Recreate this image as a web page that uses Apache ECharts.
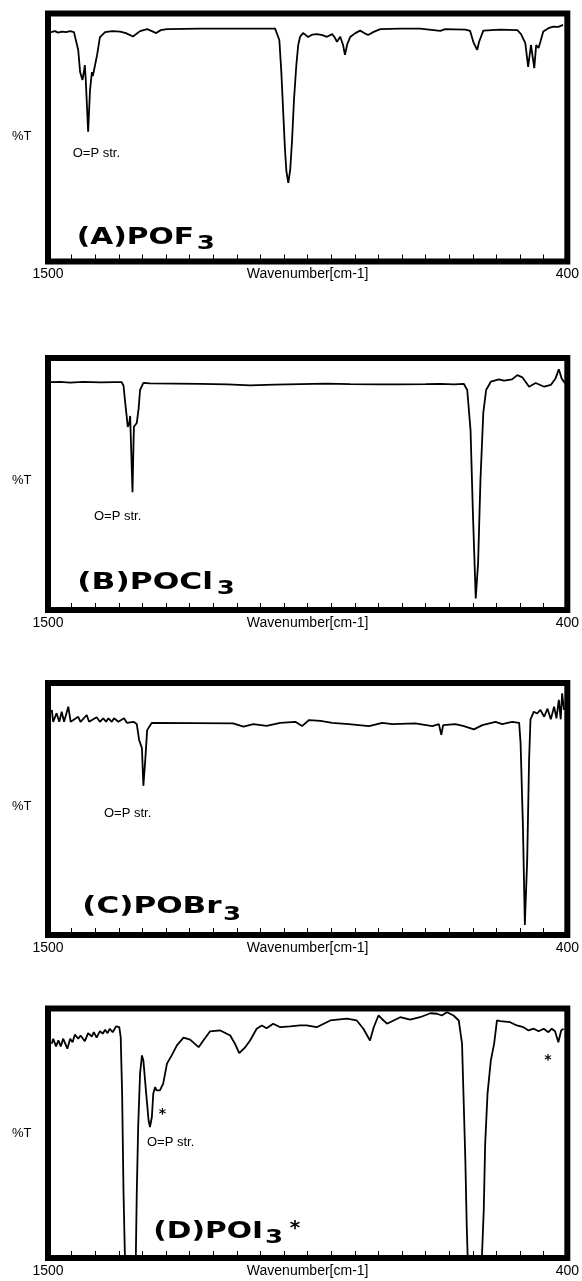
<!DOCTYPE html>
<html>
<head>
<meta charset="utf-8">
<title>IR spectra POX3</title>
<script src="https://cdn.jsdelivr.net/npm/echarts@6/dist/echarts.min.js"></script>
<style>
  html, body { margin: 0; padding: 0; background: #fff; }
  #main { width: 582px; height: 1281px; }
</style>
</head>
<body>
<div id="main"></div>
<script>
// wavenumber [cm-1] and %T
const wnA = [1494, 1485, 1479, 1470, 1462, 1453, 1445, 1441, 1436, 1432, 1427, 1424, 1422, 1420, 1415, 1411, 1407, 1405, 1401, 1396,
  1390, 1379, 1364, 1347, 1335, 1320, 1305, 1290, 1280, 1271, 1261, 1248, 1178, 1093, 1019, 1015, 1010, 1006, 1002, 998,
  995, 991, 987, 983, 979, 974, 970, 966, 960, 954, 949, 940, 930, 919, 909, 898, 892, 888, 881, 875,
  871, 866, 860, 849, 839, 830, 822, 809, 796, 754, 712, 669, 659, 616, 606, 599, 591, 587, 578, 542,
  506, 498, 489, 483, 477, 470, 466, 461, 457, 451, 440, 430, 419, 409];
const tA = [92.5, 92.9, 92.3, 92.7, 92.5, 92.9, 92.5, 91.7, 85.3, 76.4, 73.2, 76.4, 79.2, 73.2, 52.3, 69.1, 76.4, 74.8, 75.6, 83.3,
  90.5, 92.5, 92.9, 92.7, 92.1, 90.7, 92.9, 93.7, 92.9, 92.1, 93.3, 93.7, 93.9, 93.9, 93.9, 93.3, 89.3, 77.2, 61.1, 45.0,
  36.3, 31.7, 36.9, 49.0, 65.1, 79.2, 87.3, 90.6, 92.1, 91.3, 90.5, 91.5, 91.7, 91.3, 90.6, 91.7, 90.1, 88.6, 90.6, 87.3,
  83.3, 87.7, 90.5, 92.1, 93.1, 92.1, 91.3, 92.7, 93.7, 93.9, 93.9, 93.0, 93.7, 93.5, 93.0, 88.5, 85.3, 88.5, 93.1, 93.5,
  93.3, 91.7, 88.1, 78.5, 87.3, 78.0, 87.3, 86.1, 88.6, 92.7, 94.1, 94.7, 94.6, 95.4];

const wnB = [1494, 1475, 1453, 1426, 1390, 1358, 1344, 1340, 1337, 1331, 1328, 1326, 1324, 1321, 1319, 1318, 1312, 1308, 1305, 1298,
  1284, 1230, 1178, 1120, 1072, 1020, 966, 910, 860, 800, 754, 700, 669, 640, 619, 612, 605, 600, 594, 589,
  584, 578, 572, 562, 545, 534, 517, 506, 495, 481, 467, 449, 435, 425, 418, 412, 405];
const tB = [90.4, 90.5, 90.2, 90.5, 90.3, 90.4, 90.4, 89.0, 83.3, 72.7, 74.0, 77.0, 65.0, 46.7, 65.0, 72.7, 74.2, 80.0, 87.3, 90.1,
  89.9, 89.8, 89.7, 89.5, 89.1, 89.4, 89.6, 89.8, 89.6, 89.5, 89.5, 89.6, 89.7, 89.5, 89.7, 87.3, 71.4, 38.5, 4.6, 18.7,
  51.6, 78.2, 87.3, 90.6, 91.5, 91.0, 91.5, 93.2, 92.3, 88.6, 90.1, 88.6, 89.3, 91.9, 95.5, 91.9, 90.0];

const wnC = [1492, 1489, 1482, 1476, 1471, 1466, 1457, 1452, 1436, 1431, 1418, 1413, 1397, 1390, 1383, 1377, 1372, 1365, 1360, 1351,
  1339, 1333, 1319, 1312, 1307, 1301, 1298, 1294, 1290, 1280, 1108, 1086, 1065, 1037, 1008, 976, 962, 947, 923, 898,
  863, 820, 792, 771, 722, 686, 672, 667, 663, 637, 619, 598, 580, 552, 538, 517, 502, 499, 494, 490,
  485, 481, 478, 471, 464, 457, 449, 442, 435, 428, 423, 418, 414, 411, 407];
const tC = [89.3, 84.6, 88.0, 84.6, 88.6, 84.6, 90.6, 84.6, 86.6, 84.6, 87.3, 84.6, 86.4, 84.6, 86.0, 84.6, 86.0, 84.6, 86.0, 84.6,
  86.0, 84.2, 84.6, 83.7, 77.4, 74.1, 59.2, 69.4, 81.3, 84.2, 84.0, 82.7, 83.7, 83.0, 84.2, 84.6, 82.9, 85.3, 85.0, 84.2,
  83.7, 82.9, 84.2, 83.7, 84.0, 82.9, 83.7, 79.4, 83.3, 83.7, 82.9, 81.6, 83.3, 84.6, 83.7, 84.6, 84.2, 76.1, 43.0, 4.0,
  29.8, 69.4, 85.6, 88.6, 87.9, 89.3, 86.6, 89.8, 85.6, 90.6, 86.0, 93.3, 85.6, 95.9, 89.3];

const wnD = [1492, 1489, 1483, 1478, 1473, 1468, 1459, 1453, 1448, 1443, 1436, 1431, 1422, 1415, 1407, 1403, 1397, 1390, 1384, 1379,
  1374, 1369, 1363, 1356, 1349, 1346, 1343, 1340, 1337, 1333, 1326, 1319, 1314, 1312, 1309, 1305, 1301, 1298, 1292, 1287,
  1284, 1280, 1277, 1273, 1270, 1263, 1256, 1248, 1238, 1227, 1213, 1199, 1181, 1171, 1157, 1135, 1114, 1104, 1095, 1083,
  1072, 1058, 1047, 1037, 1023, 1008, 987, 966, 952, 931, 902, 867, 846, 832, 818, 810, 800, 793, 782, 768,
  754, 733, 712, 690, 676, 666, 655, 641, 630, 623, 620, 616, 613, 611, 606, 595, 584, 581, 577, 574,
  569, 562, 555, 549, 542, 521, 507, 493, 482, 471, 461, 450, 440, 433, 426, 419, 413, 408];
const tD = [85.9, 87.9, 84.8, 87.2, 84.8, 87.9, 83.9, 87.9, 86.5, 89.6, 87.9, 89.2, 86.9, 90.1, 88.8, 90.5, 88.3, 90.9, 89.9, 91.5,
  90.1, 91.9, 90.5, 92.8, 92.5, 88.5, 65.9, 25.9, 0, -20, -25, -20, 0, 25.9, 52.5, 73.9, 81.2, 79.2, 65.9, 55.2,
  52.5, 56.5, 65.9, 68.5, 67.2, 67.2, 69.9, 77.9, 81.2, 85.2, 88.3, 87.5, 84.5, 87.2, 90.8, 91.2, 89.2, 85.9, 82.1, 84.3,
  87.2, 91.9, 93.2, 92.1, 93.9, 92.5, 92.8, 93.2, 93.2, 92.5, 95.2, 95.9, 95.2, 91.9, 87.2, 92.5, 97.2, 95.9, 93.9, 95.2,
  96.5, 95.5, 96.5, 98.1, 97.9, 97.2, 98.5, 97.2, 95.2, 85.9, 65.9, 39.2, 12.5, 0, -20, -25, -20, 0, 19.2, 45.9,
  65.9, 79.2, 85.9, 95.2, 94.9, 94.5, 93.2, 92.5, 91.2, 91.9, 90.9, 91.9, 90.5, 91.9, 90.9, 86.5, 91.2, 91.9];

const spectra = [[wnA, tA], [wnB, tB], [wnC, tC], [wnD, tD]];
const titles = ['(A)POF', '(B)POCl', '(C)POBr', '(D)POI'];

const chart = echarts.init(document.getElementById('main'));

const panels = [
  { top: 13.5, height: 248, ttl: [76.7, 238.3], sc: 1.29, sub: [196.7, 244.2], op: [72.7, 153.3], pt: 136.7 },
  { top: 358, height: 252, ttl: [77.3, 583.3], sc: 1.36, sub: [216.7, 588.3], op: [94, 516.7], pt: 480 },
  { top: 683, height: 252, ttl: [82.3, 907.5], sc: 1.35, sub: [223, 915], op: [104, 813.3], pt: 806.7 },
  { top: 1008.5, height: 249.5, ttl: [153.3, 1232.5], sc: 1.29, sub: [265, 1237.3], op: [147, 1142.7], pt: 1133.3 }
];

const labelFont = { fontFamily: 'Liberation Sans', fontSize: 14, color: '#000' };

const grid = [], xAxis = [], yAxis = [], series = [], graphic = [];
panels.forEach((p, i) => {
  grid.push({
    left: 48, right: 14.5, top: p.top, height: p.height,
    show: true, borderColor: '#000', borderWidth: 6, backgroundColor: 'transparent'
  });
  xAxis.push({
    gridIndex: i, type: 'value', min: 400, max: 1500, interval: 50, inverse: true,
    axisLine: { show: false },
    splitLine: { show: false },
    axisTick: { inside: true, length: 7, lineStyle: { color: '#000', width: 1 } },
    axisLabel: Object.assign({
      margin: 6,
      showMinLabel: true, showMaxLabel: true,
      formatter: v => (v === 1500 || v === 400) ? String(v) : ''
    }, labelFont),
    name: 'Wavenumber[cm-1]', nameLocation: 'middle', nameGap: 6, nameMoveOverlap: false,
    nameTextStyle: Object.assign({ verticalAlign: 'top' }, labelFont)
  });
  yAxis.push({ gridIndex: i, type: 'value', min: 0, max: 100, show: false });
  const [wn, t] = spectra[i];
  series.push({
    type: 'line', xAxisIndex: i, yAxisIndex: i,
    data: wn.map((w, k) => [w, t[k]]),
    showSymbol: false, clip: true,
    lineStyle: { color: '#000', width: 1.8 }
  });

  graphic.push({
    type: 'text', x: 21.7, y: p.pt,
    style: { text: '%T', font: '13px "Liberation Sans"', fill: '#000', align: 'center', verticalAlign: 'middle', textAlign: 'center', textVerticalAlign: 'middle' }
  });
  graphic.push({
    type: 'text', x: p.op[0], y: p.op[1],
    style: { text: 'O=P str.', font: '13px "Liberation Sans"', fill: '#000', align: 'left', verticalAlign: 'middle', textAlign: 'left', textVerticalAlign: 'middle' }
  });
  graphic.push({
    type: 'text', x: p.ttl[0], y: p.ttl[1], scaleX: p.sc,
    style: { text: titles[i], font: 'bold 23px "DejaVu Sans"', fill: '#000', align: 'left', verticalAlign: 'middle', textAlign: 'left', textVerticalAlign: 'middle' }
  });
  graphic.push({
    type: 'text', x: p.sub[0], y: p.sub[1], scaleX: 1.3,
    style: { text: '3', font: 'bold 20px "DejaVu Sans"', fill: '#000', align: 'left', verticalAlign: 'middle', textAlign: 'left', textVerticalAlign: 'middle' }
  });
});

// asterisks of panel D
const stars = [[295, 1229, 20], [162.5, 1114, 14], [548, 1060, 14]];
stars.forEach(s => {
  graphic.push({
    type: 'text', x: s[0], y: s[1],
    style: { text: '*', font: 'bold ' + s[2] + 'px "DejaVu Sans"', fill: '#000', align: 'center', verticalAlign: 'middle', textAlign: 'center', textVerticalAlign: 'middle' }
  });
});

chart.setOption({
  animation: false,
  backgroundColor: '#fff',
  grid, xAxis, yAxis, series, graphic
});
</script>
</body>
</html>
